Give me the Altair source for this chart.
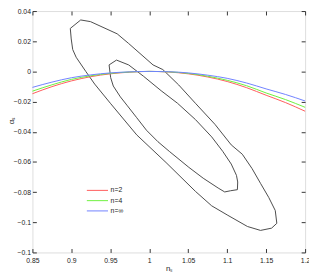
import altair as alt
import pandas as pd

# ---- data ----
outer_ns = [0.8986, 0.9120, 0.9245, 0.9588, 0.9735, 1.0048, 1.0174, 1.0378, 1.0592, 1.0843,
            1.1052, 1.1194, 1.1319, 1.1428, 1.1533, 1.1617, 1.1637, 1.1570, 1.1428, 1.1260,
            1.1009, 1.0801, 1.0592, 1.0215, 0.9839, 0.9500, 0.9299, 0.9186, 0.9061, 0.9017,
            0.8998, 0.8986]
outer_as = [0.0285, 0.0341, 0.0330, 0.0249, 0.0185, 0.0043, 0.0012, -0.0090, -0.0211, -0.0351,
            -0.0487, -0.0549, -0.0644, -0.0742, -0.0835, -0.0922, -0.1007, -0.1039, -0.1054, -0.1028,
            -0.0954, -0.0891, -0.0795, -0.0604, -0.0421, -0.0211, -0.0084, -0.0001, 0.0094, 0.0145,
            0.0215, 0.0285]

inner_ns = [0.9484, 0.9579, 0.9735, 0.9923, 1.0152, 1.0362, 1.0592, 1.0801, 1.0943, 1.1052,
            1.1119, 1.1135, 1.1131, 1.1043, 1.0968, 1.0884, 1.0692, 1.0508, 1.0257, 1.0111,
            0.9964, 0.9839, 0.9713, 0.9629, 0.9538, 0.9504, 0.9484]
inner_as = [0.0043, 0.0075, 0.0043, -0.0031, -0.0128, -0.0211, -0.0319, -0.0434, -0.0530, -0.0614,
            -0.0689, -0.0733, -0.0784, -0.0791, -0.0799, -0.0773, -0.0708, -0.0636, -0.0530, -0.0466,
            -0.0390, -0.0307, -0.0224, -0.0169, -0.0097, -0.0041, 0.0043]

curve_ns = [0.85, 0.875, 0.9, 0.925, 0.95, 0.975, 1.0, 1.025, 1.05, 1.075, 1.1, 1.125, 1.15, 1.175, 1.2]
curve_n2 = [-0.0148, -0.0101, -0.0063, -0.0035, -0.0016, -0.0005, 0.0, -0.0004, -0.0016, -0.0037,
            -0.0067, -0.0108, -0.0158, -0.0207, -0.0264]
curve_n4 = [-0.0131, -0.0089, -0.0053, -0.0029, -0.0013, -0.0004, 0.0, -0.0003, -0.0013, -0.0032,
            -0.0059, -0.0095, -0.0143, -0.0187, -0.0238]
curve_ninf = [-0.0106, -0.0071, -0.0042, -0.0023, -0.0010, -0.0003, 0.0, -0.0002, -0.0010, -0.0025,
              -0.0046, -0.0077, -0.0116, -0.0153, -0.0196]

series_names = ["n=2", "n=4", "n=∞"]
series_colors = ["#ff5a5a", "#6cf03c", "#6f80ff"]

x_ticks = [0.85, 0.9, 0.95, 1.0, 1.05, 1.1, 1.15, 1.2]
y_ticks = [-0.12, -0.1, -0.08, -0.06, -0.04, -0.02, 0, 0.02, 0.04]

W, H = 279, 247

# ---- tables ----
rows = []
for name, xs, ys in [("outer", outer_ns, outer_as), ("inner", inner_ns, inner_as)]:
    for i, (a, b) in enumerate(zip(xs, ys)):
        rows.append({"contour": name, "i": i, "ns": a, "as": b})
contours = pd.DataFrame(rows)

rows = []
for name, vals in zip(series_names, [curve_n2, curve_n4, curve_ninf]):
    for a, b in zip(curve_ns, vals):
        rows.append({"series": name, "ns": a, "as": b})
curves = pd.DataFrame(rows)

xscale = alt.Scale(domain=[0.85, 1.2], nice=False, zero=False)
yscale = alt.Scale(domain=[-0.12, 0.04], nice=False, zero=False)

xaxis = alt.Axis(values=x_ticks, format="~g", title="nₛ", tickSize=0, labelPadding=4,
                 labelOverlap=False, labelFlush=False,
                 grid=True, gridDash=[4, H - 8], gridColor="#333", gridOpacity=1, gridWidth=1,
                 domain=False, labelFontSize=7, labelColor="#222", titleFontSize=8,
                 titleFontWeight="normal", titlePadding=1, titleColor="#222")
yaxis = alt.Axis(values=y_ticks, format="~g", title="αₛ", tickSize=0, labelPadding=2,
                 labelOverlap=False, labelFlush=False,
                 grid=True, gridDash=[4, W - 8], gridColor="#333", gridOpacity=1, gridWidth=1,
                 domain=False, labelFontSize=7, labelColor="#222", titleFontSize=8,
                 titleFontWeight="normal", titleColor="#222", titleX=-17, titleY=112)

contour_layer = alt.Chart(contours).mark_line(color="#4a4a4a", strokeWidth=1).encode(
    x=alt.X("ns:Q", scale=xscale, axis=xaxis),
    y=alt.Y("as:Q", scale=yscale, axis=yaxis),
    detail="contour:N",
    order="i:Q",
)

curve_layer = alt.Chart(curves).mark_line(strokeWidth=1, interpolate="monotone").encode(
    x=alt.X("ns:Q", scale=xscale, axis=xaxis),
    y=alt.Y("as:Q", scale=yscale, axis=yaxis),
    color=alt.Color("series:N", scale=alt.Scale(domain=series_names, range=series_colors),
                    legend=alt.Legend(orient="none", legendX=55, legendY=180, title=None,
                                      symbolType="stroke", symbolSize=470, symbolStrokeWidth=1,
                                      labelFontSize=7, labelColor="#222", labelOffset=2,
                                      clipHeight=7, rowPadding=2.5)),
)

chart = alt.layer(contour_layer, curve_layer).properties(
    width=W, height=H,
    autosize=alt.AutoSizeParams(type="none"),
    padding={"left": 25, "top": 0, "right": 4, "bottom": 22},
).configure_view(stroke="#333", strokeWidth=1.2).configure_axis(
    labelOverlap=False, labelFlush=False
).configure(font="Liberation Sans")

chart.save("out.html", embed_options={"renderer": "svg", "actions": False})
